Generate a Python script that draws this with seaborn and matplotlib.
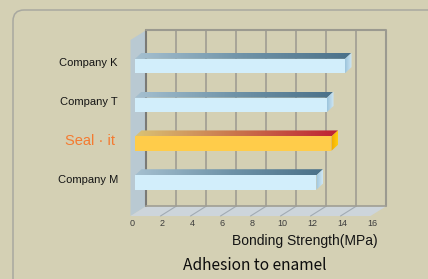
import numpy as np
import pandas as pd
import seaborn as sns
import matplotlib.pyplot as plt
import matplotlib.patches as mpatches
from matplotlib.colors import LinearSegmentedColormap

# --- Data ---
companies = ["Company K", "Company T", "Seal · it", "Company M"]
strength = [14.0, 12.8, 13.1, 12.1]
ticks = [0, 2, 4, 6, 8, 10, 12, 14, 16]
highlight = "Seal · it"
xlabel = "Bonding Strength(MPa)"
title = "Adhesion to enamel"

# --- Layout (pixels of the 428x279 canvas) ---
BG = "#d4d0b4"
W, H = 428, 279
PX_X = 15.0          # pixels per MPa
PX_Y = 38.8          # pixels per row
X0, Y0 = 135, 66     # pixel of value 0 / first row centre


def dx(p):
    return p / PX_X


def dy(p):
    return p / PX_Y


def xv(pix):
    return (pix - X0) / PX_X


def yv(pix):
    return (pix - Y0) / PX_Y


def shade(ax, poly, colors, vertical=False, z=4):
    """Fill a polygon with a linear gradient."""
    patch = mpatches.Polygon(poly, closed=True, fc="none", ec="none", zorder=z)
    ax.add_patch(patch)
    xs, ys = zip(*poly)
    g = np.linspace(0, 1, 64)
    img = g[:, None] if vertical else g[None, :]
    cmap = LinearSegmentedColormap.from_list("g", colors)
    im = ax.imshow(img, cmap=cmap, extent=(min(xs), max(xs), max(ys), min(ys)),
                   aspect="auto", interpolation="bilinear", zorder=z)
    im.set_clip_path(patch)


sns.set_theme(style="white")
plt.rcParams["font.family"] = ["Liberation Sans", "DejaVu Sans"]

fig = plt.figure(figsize=(W / 100, H / 100), dpi=100, facecolor=BG)
ax = fig.add_axes([0, 0, 1, 1])
ax.set_facecolor(BG)

df = pd.DataFrame({"company": companies, "strength": strength})
front_colors = {c: ("#ffcc4a" if c == highlight else "#d2eefb") for c in companies}
sns.barplot(data=df, x="strength", y="company", hue="company", palette=front_colors,
            orient="h", width=0.37, errorbar=None, legend=False, linewidth=0,
            saturation=1, ax=ax, zorder=3)
bars = list(ax.patches)

# --- 3D frame: walls, floor, grid ---
front0 = xv(130.5)
depth_x, depth_y = dx(16), dy(-10)
y_floor = yv(216)
y_top_front = yv(40)
back_l = front0 + depth_x
back_r = front0 + ticks[-1] + depth_x
y_back_top = y_top_front + depth_y
y_back_bot = y_floor + depth_y

left_wall = [(front0, y_floor), (front0, y_top_front), (back_l, y_back_top), (back_l, y_back_bot)]
ax.add_patch(mpatches.Polygon(left_wall, closed=True, fc="#b9c9d2", ec="none", zorder=1))
floor = [(front0, y_floor), (front0 + ticks[-1], y_floor), (back_r, y_back_bot), (back_l, y_back_bot)]
ax.add_patch(mpatches.Polygon(floor, closed=True, fc="#cdd5db", ec="none", zorder=1))

for v in ticks[1:-1]:
    ax.plot([back_l + v] * 2, [y_back_top, y_back_bot], color="#a7a498", lw=1.4, zorder=1.5)
    ax.plot([back_l + v, front0 + v], [y_back_bot, y_floor], color="#a2abb3", lw=0.8, zorder=1.5)
ax.plot([back_l, back_l], [y_back_top, y_back_bot], color="#7a7a76", lw=1.5, zorder=2)
ax.plot([back_l, back_r, back_r], [y_back_top, y_back_top, y_back_bot], color="#9b9a90", lw=1.5, zorder=2)
ax.plot([back_l, back_r], [y_back_bot, y_back_bot], color="#a09e94", lw=1.2, zorder=2)

for v in ticks:
    ax.text(front0 + v + dx(1.5), yv(224), str(v), ha="center", va="center",
            fontsize=6.5, color="#3c3c3c")

# --- bar top and side faces ---
bdx, bdy = dx(6.5), dy(-6)
for rect, name in zip(bars, companies):
    x0, w = rect.get_x(), rect.get_width()
    y0, h = rect.get_y(), rect.get_height()
    top = [(x0, y0), (x0 + w, y0), (x0 + w + bdx, y0 + bdy), (x0 + bdx, y0 + bdy)]
    side = [(x0 + w, y0), (x0 + w + bdx, y0 + bdy), (x0 + w + bdx, y0 + h + bdy), (x0 + w, y0 + h)]
    if name == highlight:
        shade(ax, top, ["#d9c274", "#c9744c", "#bf2234"])
        shade(ax, side, ["#f2a800", "#ffcf10"])
    else:
        shade(ax, top, ["#a4bfcf", "#6f93a8", "#4b7189"])
        shade(ax, side, ["#9cc4dc", "#cfe7f4"])

# --- labels ---
for i, name in enumerate(companies):
    if name == highlight:
        ax.text(xv(90), i - dy(2.5), name, ha="center", va="center",
                fontsize=10.5, color="#f47a30")
    else:
        ax.text(xv(88.5), i - dy(2.5), name, ha="center", va="center",
                fontsize=8, color="#141414")

ax.text(xv(378), yv(241), xlabel, ha="right", va="center", fontsize=10, color="#141414")
ax.text(xv(255), yv(265), title, ha="center", va="center", fontsize=11.2,
        weight="medium", color="#0c0c0c", family=["Noto Sans CJK KR", "DejaVu Sans"])

ax.set_xlim(xv(0), xv(W))
ax.set_ylim(yv(H), yv(0))
ax.set_xticks([])
ax.set_yticks([])
ax.set_xlabel("")
ax.set_ylabel("")
for s in ax.spines.values():
    s.set_visible(False)

# rounded panel outline
panel = mpatches.FancyBboxPatch((0.13, -0.6), 6.0, 2.69 + 0.6,
                                boxstyle="round,pad=0,rounding_size=0.11",
                                transform=fig.dpi_scale_trans, fc="none",
                                ec="#a8a8a0", lw=1.1)
fig.add_artist(panel)

fig.savefig("out.png", dpi=100, facecolor=BG)
